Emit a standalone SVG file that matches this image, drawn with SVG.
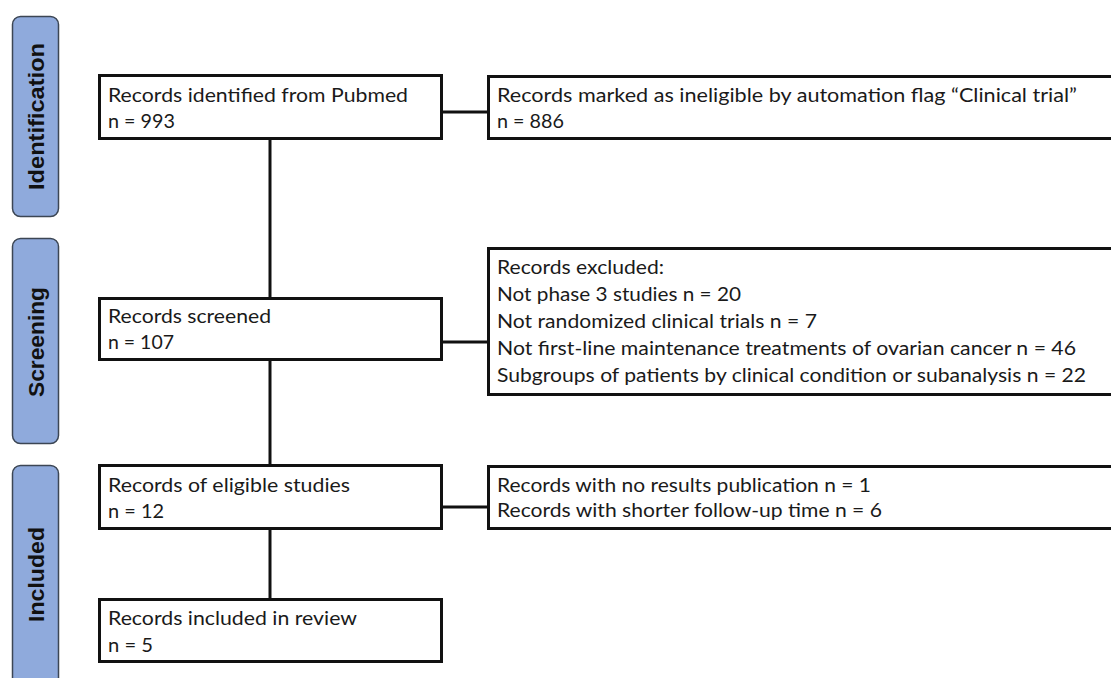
<svg xmlns="http://www.w3.org/2000/svg" width="1111" height="678" viewBox="0 0 1111 678">
<style>
.tab{fill:#8faadc;stroke:#3c4654;stroke-width:1.5}
.tabt{font-family:"Liberation Sans",Arial,sans-serif;font-weight:bold;font-size:22px;fill:#111}
.box{fill:#fff;stroke:#111;stroke-width:3}
.t{font-family:Lato,"Open Sans",sans-serif;font-size:19.5px;fill:#1a1a1a}
.c{stroke:#111;stroke-width:3;fill:none}
</style>
<rect width="1111" height="678" fill="#fff"/>
<g id="tab-identification">
<rect class="tab" x="12.5" y="16.5" width="46" height="200" rx="8"/>
<text class="tabt" transform="translate(43.5,190) rotate(-90)" textLength="147" lengthAdjust="spacingAndGlyphs">Identification</text>
</g>
<g id="tab-screening">
<rect class="tab" x="12.5" y="238.5" width="46" height="205" rx="8"/>
<text class="tabt" transform="translate(43.5,397) rotate(-90)" textLength="110" lengthAdjust="spacingAndGlyphs">Screening</text>
</g>
<g id="tab-included">
<rect class="tab" x="12.5" y="465.5" width="46" height="230" rx="8"/>
<text class="tabt" transform="translate(43.5,622) rotate(-90)" textLength="95" lengthAdjust="spacingAndGlyphs">Included</text>
</g>
<g id="connectors">
<line class="c" x1="270" y1="140" x2="270" y2="298"/>
<line class="c" x1="270" y1="360" x2="270" y2="465"/>
<line class="c" x1="270" y1="529" x2="270" y2="599"/>
<line class="c" x1="441" y1="112" x2="489" y2="112"/>
<line class="c" x1="441" y1="342" x2="489" y2="342"/>
<line class="c" x1="441" y1="507" x2="489" y2="507"/>
</g>
<g id="node-identified">
<rect class="box" x="99.5" y="75.5" width="342" height="63"/>
<text class="t" x="108" y="102" textLength="300" lengthAdjust="spacingAndGlyphs">Records identified from Pubmed</text>
<text class="t" x="108" y="128" textLength="67" lengthAdjust="spacingAndGlyphs">n = 993</text>
</g>
<g id="node-ineligible">
<rect class="box" x="488.5" y="76.5" width="640" height="62"/>
<text class="t" x="497" y="102" textLength="580" lengthAdjust="spacingAndGlyphs">Records marked as ineligible by automation flag “Clinical trial”</text>
<text class="t" x="497" y="128" textLength="67" lengthAdjust="spacingAndGlyphs">n = 886</text>
</g>
<g id="node-screened">
<rect class="box" x="99.5" y="298.5" width="342" height="61"/>
<text class="t" x="108" y="323" textLength="163" lengthAdjust="spacingAndGlyphs">Records screened</text>
<text class="t" x="108" y="349" textLength="66" lengthAdjust="spacingAndGlyphs">n = 107</text>
</g>
<g id="node-excluded">
<rect class="box" x="488.5" y="248.5" width="640" height="146"/>
<text class="t" x="497" y="274" textLength="167" lengthAdjust="spacingAndGlyphs">Records excluded:</text>
<text class="t" x="497" y="301" textLength="244" lengthAdjust="spacingAndGlyphs">Not phase 3 studies n = 20</text>
<text class="t" x="497" y="328" textLength="320" lengthAdjust="spacingAndGlyphs">Not randomized clinical trials n = 7</text>
<text class="t" x="497" y="355" textLength="579" lengthAdjust="spacingAndGlyphs">Not first-line maintenance treatments of ovarian cancer n = 46</text>
<text class="t" x="497" y="382" textLength="589" lengthAdjust="spacingAndGlyphs">Subgroups of patients by clinical condition or subanalysis n = 22</text>
</g>
<g id="node-eligible">
<rect class="box" x="99.5" y="465.5" width="342" height="63"/>
<text class="t" x="108" y="492" textLength="242" lengthAdjust="spacingAndGlyphs">Records of eligible studies</text>
<text class="t" x="108" y="518" textLength="56" lengthAdjust="spacingAndGlyphs">n = 12</text>
</g>
<g id="node-noresults">
<rect class="box" x="488.5" y="466.5" width="640" height="62"/>
<text class="t" x="497" y="492" textLength="374" lengthAdjust="spacingAndGlyphs">Records with no results publication n = 1</text>
<text class="t" x="497" y="517" textLength="385" lengthAdjust="spacingAndGlyphs">Records with shorter follow-up time n = 6</text>
</g>
<g id="node-included">
<rect class="box" x="99.5" y="599.5" width="342" height="62"/>
<text class="t" x="108" y="625" textLength="249" lengthAdjust="spacingAndGlyphs">Records included in review</text>
<text class="t" x="108" y="652" textLength="45" lengthAdjust="spacingAndGlyphs">n = 5</text>
</g>
</svg>
